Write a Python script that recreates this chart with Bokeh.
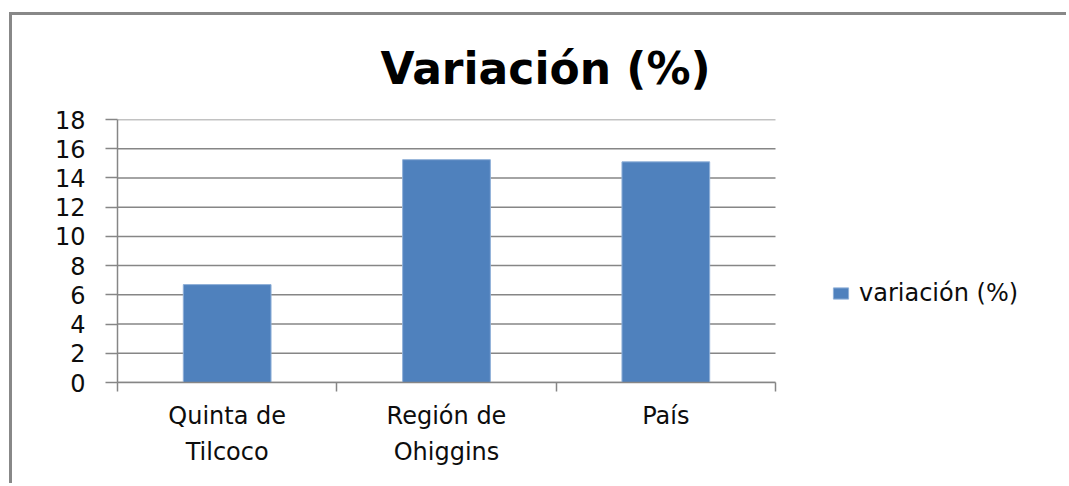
from bokeh.plotting import figure
from bokeh.models import (Range1d, LinearAxis, FixedTicker, Legend, LegendItem,
                          ColumnDataSource)
from bokeh.core.properties import value
from bokeh.embed import file_html
from bokeh.resources import INLINE

# ---- data ----
categories = ["Quinta de Tilcoco", "Región de Ohiggins", "País"]
label_line1 = ["Quinta de", "Región de", "País"]
label_line2 = ["Tilcoco", "Ohiggins", ""]
values = [6.7, 15.25, 15.1]
series_name = "variación (%)"
title_text = "Variación (%)"
y_ticks = [0, 2, 4, 6, 8, 10, 12, 14, 16, 18]

FONT = "DejaVu Sans"
FS = "24px"
GRAY = "#868686"
BAR = "#4F81BD"
TXT = "#0d0d0d"

n = len(categories)
centers = [i + 0.5 for i in range(n)]          # category slot centres
edges = list(range(n + 1))                     # category slot boundaries

bar_src = ColumnDataSource(dict(x=centers, val=values, cat=categories))
grid_src = ColumnDataSource(dict(y=y_ticks, x0=[0] * len(y_ticks), x1=[n] * len(y_ticks)))

W, H = 1057, 471
LEFT, RIGHT_END = 105, 1052
slot_px = 658 / 3.0
x_end = (RIGHT_END - LEFT) / slot_px           # extra room on the right for the legend

p = figure(x_range=Range1d(0, x_end), y_range=Range1d(y_ticks[0], y_ticks[-1]),
           width=W, height=H, output_backend="svg", toolbar_location=None,
           x_axis_location=None, y_axis_location=None,
           min_border_left=LEFT, min_border_right=W - RIGHT_END, min_border_top=102,
           min_border_bottom=104)
p.outline_line_color = None
p.background_fill_color = "white"
p.border_fill_color = "white"
p.center = []
p.styles = {"border-top": "3px solid #888888", "border-left": "3px solid #888888",
            "margin-left": "9px", "margin-top": "12px"}

# horizontal gridlines limited to the category area
p.segment(x0="x0", x1="x1", y0="y", y1="y", source=grid_src,
          line_color=GRAY, line_width=1.5)

# y axis
yaxis = LinearAxis(ticker=FixedTicker(ticks=y_ticks),
                   axis_line_color=GRAY, axis_line_width=1.5,
                   major_tick_out=12, major_tick_in=0,
                   major_tick_line_color=GRAY, major_tick_line_width=1.5,
                   minor_tick_line_color=None,
                   major_label_text_font=FONT, major_label_text_font_size=FS,
                   major_label_text_color=TXT, major_label_standoff=20)
p.add_layout(yaxis, "left")

# x axis: ticks at category boundaries
edge_axis = LinearAxis(ticker=FixedTicker(ticks=edges), bounds=(0, n),
                       major_label_overrides={i: "" for i in edges},
                       major_label_text_font_size="1px", major_label_standoff=0,
                       axis_line_color=GRAY, axis_line_width=1.5,
                       major_tick_out=9, major_tick_in=0,
                       major_tick_line_color=GRAY, major_tick_line_width=1.5,
                       minor_tick_line_color=None)
p.add_layout(edge_axis, "below")


def label_axis(lines, standoff):
    return LinearAxis(ticker=FixedTicker(ticks=centers), bounds=(0, n),
                      major_label_overrides=dict(zip(centers, lines)),
                      axis_line_color=None, major_tick_line_color=None,
                      minor_tick_line_color=None,
                      major_tick_out=0, major_tick_in=0,
                      major_label_standoff=standoff,
                      major_label_text_font=FONT, major_label_text_font_size=FS,
                      major_label_text_color=TXT)


p.add_layout(label_axis(label_line1, 10), "below")
p.add_layout(label_axis(label_line2, 5), "below")

r = p.vbar(x="x", top="val", width=0.4, source=bar_src, fill_color=BAR,
           line_color="#8FB0D8", line_width=1)

legend = Legend(items=[LegendItem(label=value(series_name), renderers=[r])],
                location=(714, 75), padding=0, margin=0, border_line_color=None,
                background_fill_alpha=0, label_text_font=FONT,
                label_text_font_size=FS, label_text_color=TXT,
                glyph_width=19, glyph_height=14, label_standoff=9)
p.add_layout(legend)

p.title.text = title_text
p.title.text_font = FONT
p.title.text_font_size = "44px"
p.title.text_font_style = "bold"
p.title.text_color = "#000000"
p.title.align = "left"
p.title.offset = 263
p.title.standoff = 51

open("out.html", "w").write(file_html(p, INLINE))
